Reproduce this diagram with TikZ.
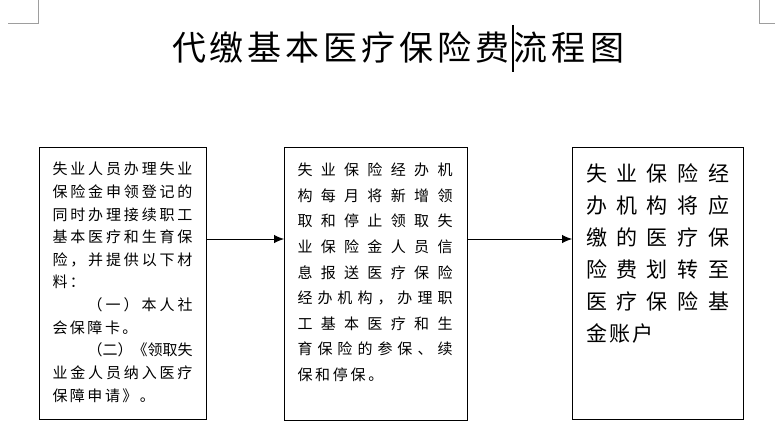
\documentclass[tikz,border=0pt]{standalone}
\usepackage{fontspec}
\usetikzlibrary{arrows.meta}
\newfontfamily\cjk{Noto Sans CJK SC}
\hbadness=10000
\def\SPloop#1{\ifx#1\relax\else#1\hskip\SPgap\expandafter\SPloop\fi}
\newcommand\JL[2]{\makebox[#1][s]{\def\SPgap{0pt plus 1fil}\SPloop#2\relax\unskip}}
\newcommand\NL[2]{{\def\SPgap{#1}\SPloop#2\relax\unskip}}
\tikzset{
  boxstyle/.style={draw=black, line width=0.8pt, inner sep=0pt, outer sep=0pt},
  linestyle/.style={anchor=base west, inner sep=0pt, outer sep=0pt, text=black},
  conn/.style={draw=black, line width=0.9pt, -{Latex[length=10pt,width=8.5pt]}},
  cornermark/.style={draw=black!38, line width=0.8pt}
}
\begin{document}
\begin{tikzpicture}[x=1pt,y=-1pt]
\useasboundingbox[fill=white] (0,0) rectangle (775,444);
% page corner marks
\draw[cornermark] (38,0) -- (38,23) -- (8,23);
\draw[cornermark] (759,0) -- (759,23) -- (775,23);
% title
\node[linestyle, font=\cjk\fontsize{34}{40}\selectfont] (title) at (172,60.5) {\JL{452pt}{代缴基本医疗保险费流程图}};
\draw[line width=1.1pt] (513,25) -- (513,72);
% boxes
\node[boxstyle, minimum width=167pt, minimum height=272pt] (b1) at (122.5,283) {};
\node[boxstyle, minimum width=183pt, minimum height=273pt] (b2) at (375.5,283.5) {};
\node[boxstyle, minimum width=171pt, minimum height=272pt] (b3) at (657.5,283) {};
% connectors
\draw[conn] (b1.east |- 0,239) -- (b2.west |- 0,239);
\draw[conn] (b2.east |- 0,239) -- (b3.west |- 0,239);
% box 1 text
\begin{scope}[every node/.style={linestyle, font=\cjk\fontsize{15}{18}\selectfont}]
\foreach \t [count=\i] in {
  {\JL{140pt}{失业人员办理失业}},
  {\JL{140pt}{保险金申领登记的}},
  {\JL{140pt}{同时办理接续职工}},
  {\JL{140pt}{基本医疗和生育保}},
  {\JL{140pt}{险，并提供以下材}},
  {\NL{2.5pt}{料：}},
  {\hspace*{35pt}\JL{105pt}{（一）本人社}},
  {\NL{2.5pt}{会保障卡。}},
  {\hspace*{35pt}\JL{105pt}{（二）《领取失}},
  {\JL{140pt}{业金人员纳入医疗}},
  {\NL{2.5pt}{保障申请》。}}
}
  \node[name=p1l\i] at (52.5,{174.7+(\i-1)*22.65}) {\t};
% box 2 text
\foreach \t [count=\i] in {
  {\JL{155pt}{失业保险经办机}},
  {\JL{155pt}{构每月将新增领}},
  {\JL{155pt}{取和停止领取失}},
  {\JL{155pt}{业保险金人员信}},
  {\JL{155pt}{息报送医疗保险}},
  {\JL{155pt}{经办机构，办理职}},
  {\JL{155pt}{工基本医疗和生}},
  {\JL{155pt}{育保险的参保、续}},
  {\NL{2.7pt}{保和停保。}}
}
  \node[name=p2l\i] at (297.5,{175.7+(\i-1)*25.6}) {\t};
\end{scope}
% box 3 text
\begin{scope}[every node/.style={linestyle, font=\cjk\fontsize{21}{25}\selectfont}]
\foreach \t [count=\i] in {
  {\JL{143pt}{失业保险经}},
  {\JL{143pt}{办机构将应}},
  {\JL{143pt}{缴的医疗保}},
  {\JL{143pt}{险费划转至}},
  {\JL{143pt}{医疗保险基}},
  {\NL{2.3pt}{金账户}}
}
  \node[name=p3l\i] at (586,{181+(\i-1)*32}) {\t};
\end{scope}
\end{tikzpicture}
\end{document}
